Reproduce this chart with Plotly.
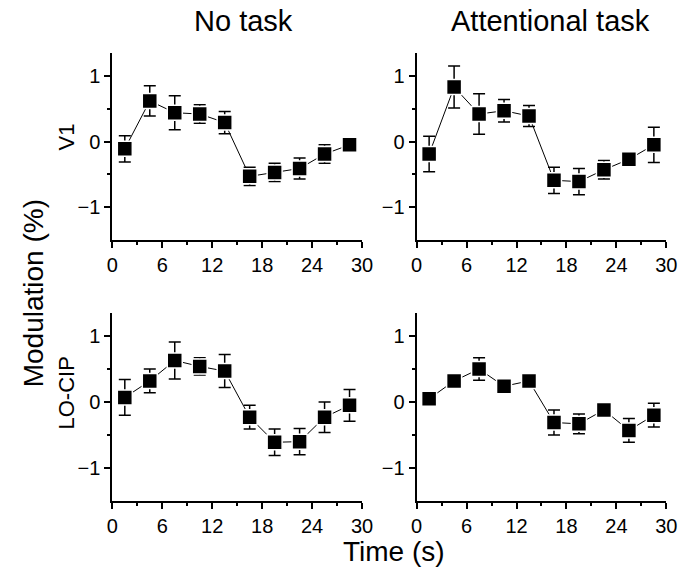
import plotly.graph_objects as go

time_s = [1.5, 4.5, 7.5, 10.5, 13.5, 16.5, 19.5, 22.5, 25.5, 28.5]

v1_no_task = [-0.11, 0.62, 0.44, 0.42, 0.29, -0.53, -0.47, -0.41, -0.19, -0.05]
v1_no_task_err = [0.20, 0.23, 0.26, 0.14, 0.17, 0.14, 0.14, 0.16, 0.14, 0.07]

v1_attn = [-0.19, 0.83, 0.42, 0.47, 0.39, -0.59, -0.61, -0.43, -0.27, -0.05]
v1_attn_err = [0.27, 0.32, 0.31, 0.17, 0.16, 0.20, 0.20, 0.14, 0.05, 0.27]

lo_no_task = [0.07, 0.32, 0.63, 0.54, 0.47, -0.23, -0.61, -0.60, -0.23, -0.05]
lo_no_task_err = [0.27, 0.18, 0.28, 0.13, 0.25, 0.18, 0.20, 0.20, 0.23, 0.24]

lo_attn = [0.05, 0.32, 0.50, 0.24, 0.32, -0.31, -0.33, -0.12, -0.43, -0.20]
lo_attn_err = [0.05, 0.07, 0.17, 0.05, 0.04, 0.19, 0.15, 0.05, 0.18, 0.18]

column_titles = ["No task", "Attentional task"]
row_labels = ["V1", "LO-CIP"]
x_ticks = [0, 6, 12, 18, 24, 30]
y_ticks = [-1, 0, 1]

FONT = "Liberation Sans, Arial, Helvetica, sans-serif"
W, H = 691, 569

panels = [
    (v1_no_task, v1_no_task_err, "x", "y"),
    (v1_attn, v1_attn_err, "x2", "y2"),
    (lo_no_task, lo_no_task_err, "x3", "y3"),
    (lo_attn, lo_attn_err, "x4", "y4"),
]

fig = go.Figure()
for vals, errs, xa, ya in panels:
    fig.add_trace(go.Scatter(
        x=time_s, y=vals, xaxis=xa, yaxis=ya, mode="lines+markers",
        line=dict(color="black", width=1),
        marker=dict(symbol="square", size=15, color="black",
                    line=dict(color="white", width=1.5)),
        error_y=dict(type="data", array=errs, visible=True, color="black",
                     thickness=1.5, width=6),
        cliponaxis=False, showlegend=False,
    ))

x_doms = [[109 / W, 365 / W], [421 / W, 677 / W]]
y_doms = [[1 - 240 / H, 1 - 53 / H], [1 - 501 / H, 1 - 313 / H]]

def xaxis(dom, anchor):
    return dict(domain=dom, anchor=anchor, range=[0, 30], tickvals=x_ticks,
                ticks="outside", ticklen=6, tickwidth=2, tickcolor="black",
                showline=True, linecolor="black", linewidth=2, showgrid=False,
                zeroline=False, tickfont=dict(size=20, color="black", family=FONT),
                minor=dict(tickvals=[3, 9, 15, 21, 27], ticks="outside", ticklen=3,
                           tickwidth=2, tickcolor="black"))

def yaxis(dom, anchor):
    return dict(domain=dom, anchor=anchor, range=[-1.5, 1.35], tickvals=y_ticks,
                ticks="outside", ticklen=6, tickwidth=2, tickcolor="black",
                showline=True, linecolor="black", linewidth=2, showgrid=False,
                zeroline=False, tickfont=dict(size=20, color="black", family=FONT),
                minor=dict(tickvals=[-0.5, 0.5], ticks="outside", ticklen=3,
                           tickwidth=2, tickcolor="black"))

fig.update_layout(
    width=W, height=H, margin=dict(l=0, r=0, t=0, b=0),
    paper_bgcolor="white", plot_bgcolor="white",
    font=dict(family=FONT, color="black"),
    xaxis=xaxis(x_doms[0], "y"), yaxis=yaxis(y_doms[0], "x"),
    xaxis2=xaxis(x_doms[1], "y2"), yaxis2=yaxis(y_doms[0], "x2"),
    xaxis3=xaxis(x_doms[0], "y3"), yaxis3=yaxis(y_doms[1], "x3"),
    xaxis4=xaxis(x_doms[1], "y4"), yaxis4=yaxis(y_doms[1], "x4"),
)

ann = []
for title, cx in zip(column_titles, [243, 558]):
    ann.append(dict(text=title, x=cx / W, y=1 - 21 / H, xref="paper", yref="paper",
                    showarrow=False, xanchor="center", yanchor="middle",
                    font=dict(size=29, family=FONT, color="black")))
for lab, cy in zip(row_labels, [137, 393]):
    ann.append(dict(text=lab, x=62 / W, y=1 - cy / H, xref="paper", yref="paper",
                    showarrow=False, xanchor="center", yanchor="middle", textangle=-90,
                    font=dict(size=22, family=FONT, color="black")))
ann.append(dict(text="Modulation (%)", x=29 / W, y=1 - 293 / H, xref="paper",
                yref="paper", showarrow=False, xanchor="center", yanchor="middle",
                textangle=-90, font=dict(size=28, family=FONT, color="black")))
ann.append(dict(text="Time (s)", x=398 / W, y=1 - 551 / H, xref="paper",
                yref="paper", showarrow=False, xanchor="center", yanchor="middle",
                font=dict(size=28, family=FONT, color="black")))
fig.update_layout(annotations=ann)

fig.write_html("out.html")
